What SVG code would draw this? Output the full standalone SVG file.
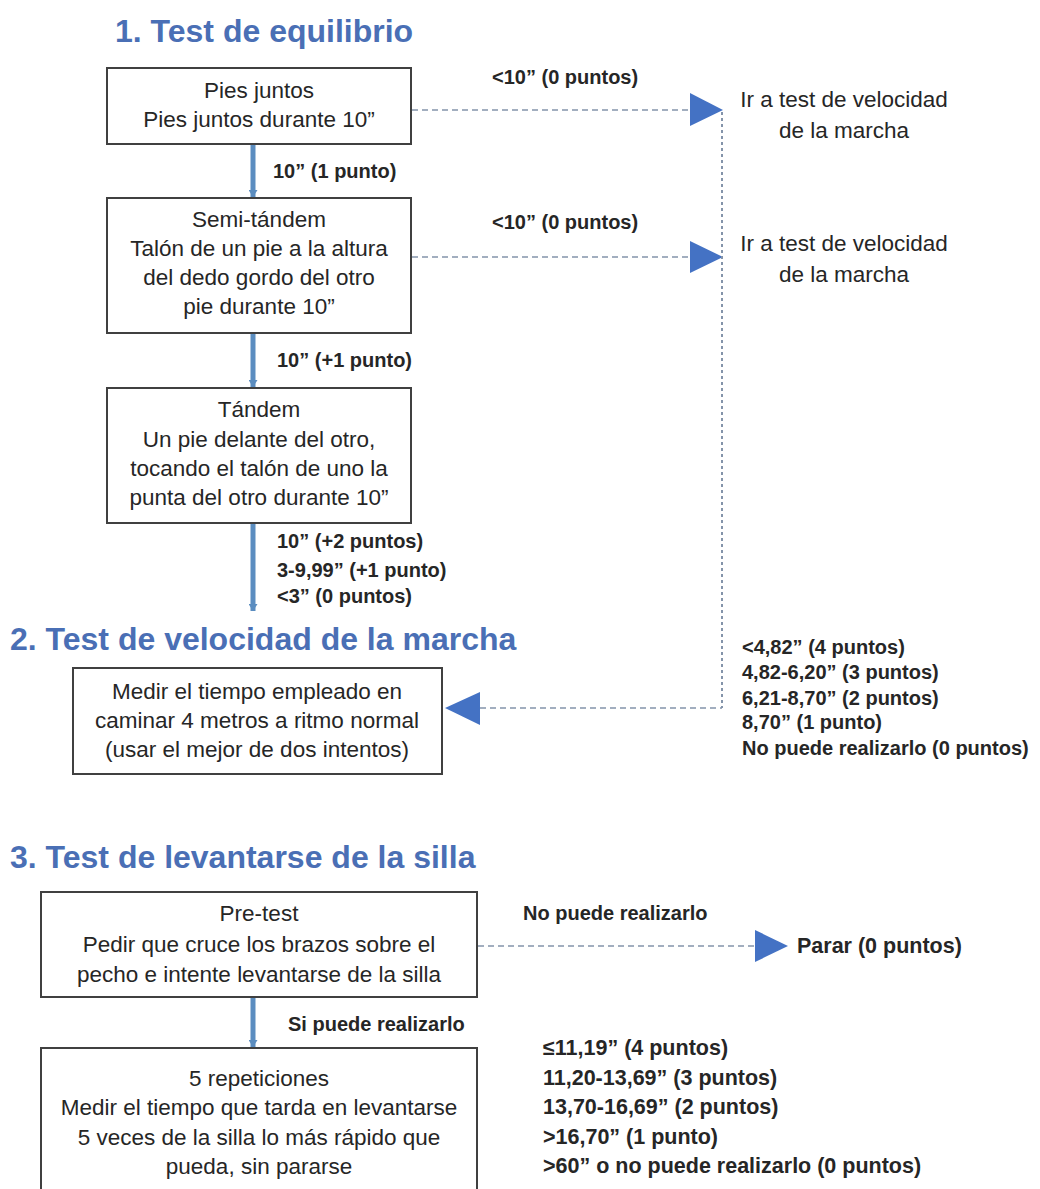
<svg xmlns="http://www.w3.org/2000/svg" width="1040" height="1189" viewBox="0 0 1040 1189">
<defs>
<style>
.title{font-family:'Liberation Sans',Arial,sans-serif;font-weight:bold;font-size:32px;fill:#4A6FB5}
.box{fill:#ffffff;stroke:#404040;stroke-width:2}
.bt{font-family:'Liberation Sans',Arial,sans-serif;font-size:22.5px;fill:#262626;text-anchor:middle}
.rt{font-family:'Liberation Sans',Arial,sans-serif;font-size:22.5px;fill:#262626;text-anchor:middle}
.lbl{font-family:'Liberation Sans',Arial,sans-serif;font-size:20px;font-weight:bold;fill:#262626}
.lbl2{font-family:'Liberation Sans',Arial,sans-serif;font-size:21.5px;font-weight:bold;fill:#262626}
.flow{stroke:#5B8DC0;stroke-width:5;fill:none;marker-end:url(#ah)}
.dash{stroke:#8494AA;stroke-width:1.6;stroke-dasharray:6 4;fill:none}
.dot{stroke:#8494AA;stroke-width:2;stroke-dasharray:3 3;fill:none}
.tri{fill:#4472C4}
</style>
<marker id="ah" markerWidth="1.4" markerHeight="1.8" refX="1.4" refY="0.9" orient="auto" markerUnits="strokeWidth">
<path d="M0,0 L1.4,0.9 L0,1.8 Z" fill="#5B8DC0"/>
</marker>
</defs>
<rect width="1040" height="1189" fill="#ffffff"/>

<g id="title1"><text class="title" x="115" y="42">1. Test de equilibrio</text></g>
<g id="title2"><text class="title" x="10" y="650">2. Test de velocidad de la marcha</text></g>
<g id="title3"><text class="title" x="10" y="868">3. Test de levantarse de la silla</text></g>

<g id="connectors">
<line class="flow" x1="253" y1="145" x2="253" y2="197"/>
<line class="flow" x1="253" y1="334" x2="253" y2="387"/>
<line class="flow" x1="253" y1="524" x2="253" y2="611"/>
<line class="flow" x1="253" y1="998" x2="253" y2="1047"/>
<line class="dash" x1="412" y1="110" x2="690" y2="110"/>
<polygon class="tri" points="690,93 723,110 690,126"/>
<line class="dash" x1="412" y1="257" x2="690" y2="257"/>
<polygon class="tri" points="690,241 723,257 690,273"/>
<polyline class="dot" points="722,112 722,708"/>
<line class="dash" x1="480" y1="708" x2="722" y2="708"/>
<polygon class="tri" points="480,692 445,708 480,725"/>
<line class="dash" x1="478" y1="946" x2="755" y2="946"/>
<polygon class="tri" points="755,930 788,946 755,962"/>
<text class="lbl" x="273" y="178">10” (1 punto)</text>
<text class="lbl" x="277" y="367">10” (+1 punto)</text>
<text class="lbl" x="277" y="548">10” (+2 puntos)</text>
<text class="lbl" x="277" y="577">3-9,99” (+1 punto)</text>
<text class="lbl" x="277" y="603">&lt;3” (0 puntos)</text>
<text class="lbl" x="492" y="84">&lt;10” (0 puntos)</text>
<text class="lbl" x="492" y="229">&lt;10” (0 puntos)</text>
<text class="lbl" x="523" y="920">No puede realizarlo</text>
<text class="lbl" x="288" y="1031">Si puede realizarlo</text>
</g>

<g id="pies-juntos">
<rect class="box" x="107" y="68" width="304" height="76"/>
<text class="bt" x="259" y="98">Pies juntos</text>
<text class="bt" x="259" y="127">Pies juntos durante 10”</text>
</g>

<g id="semi-tandem">
<rect class="box" x="107" y="198" width="304" height="135"/>
<text class="bt" x="259" y="227">Semi-tándem</text>
<text class="bt" x="259" y="256">Talón de un pie a la altura</text>
<text class="bt" x="259" y="285">del dedo gordo del otro</text>
<text class="bt" x="259" y="314">pie durante 10”</text>
</g>

<g id="tandem">
<rect class="box" x="107" y="388" width="304" height="135"/>
<text class="bt" x="259" y="417">Tándem</text>
<text class="bt" x="259" y="447">Un pie delante del otro,</text>
<text class="bt" x="259" y="476">tocando el talón de uno la</text>
<text class="bt" x="259" y="505">punta del otro durante 10”</text>
</g>

<g id="ir-velocidad-1">
<text class="rt" x="844" y="107">Ir a test de velocidad</text>
<text class="rt" x="844" y="138">de la marcha</text>
</g>

<g id="ir-velocidad-2">
<text class="rt" x="844" y="251">Ir a test de velocidad</text>
<text class="rt" x="844" y="282">de la marcha</text>
</g>

<g id="velocidad">
<rect class="box" x="73" y="668" width="369" height="106"/>
<text class="bt" x="257" y="699">Medir el tiempo empleado en</text>
<text class="bt" x="257" y="728">caminar 4 metros a ritmo normal</text>
<text class="bt" x="257" y="757">(usar el mejor de dos intentos)</text>
</g>

<g id="puntos-velocidad">
<text class="lbl" x="742" y="654">&lt;4,82” (4 puntos)</text>
<text class="lbl" x="742" y="679">4,82-6,20” (3 puntos)</text>
<text class="lbl" x="742" y="705">6,21-8,70” (2 puntos)</text>
<text class="lbl" x="742" y="729">8,70” (1 punto)</text>
<text class="lbl" x="742" y="755">No puede realizarlo (0 puntos)</text>
</g>

<g id="pre-test">
<rect class="box" x="41" y="892" width="436" height="105"/>
<text class="bt" x="259" y="921">Pre-test</text>
<text class="bt" x="259" y="952">Pedir que cruce los brazos sobre el</text>
<text class="bt" x="259" y="982">pecho e intente levantarse de la silla</text>
</g>

<g id="parar">
<text class="lbl2" x="797" y="953">Parar (0 puntos)</text>
</g>

<g id="repeticiones">
<rect class="box" x="41" y="1048" width="436" height="160"/>
<text class="bt" x="259" y="1086">5 repeticiones</text>
<text class="bt" x="259" y="1115">Medir el tiempo que tarda en levantarse</text>
<text class="bt" x="259" y="1145">5 veces de la silla lo más rápido que</text>
<text class="bt" x="259" y="1174">pueda, sin pararse</text>
</g>

<g id="puntos-silla">
<text class="lbl2" x="543" y="1055">≤11,19” (4 puntos)</text>
<text class="lbl2" x="543" y="1085">11,20-13,69” (3 puntos)</text>
<text class="lbl2" x="543" y="1114">13,70-16,69” (2 puntos)</text>
<text class="lbl2" x="543" y="1144">&gt;16,70” (1 punto)</text>
<text class="lbl2" x="543" y="1173">&gt;60” o no puede realizarlo (0 puntos)</text>
</g>
</svg>
